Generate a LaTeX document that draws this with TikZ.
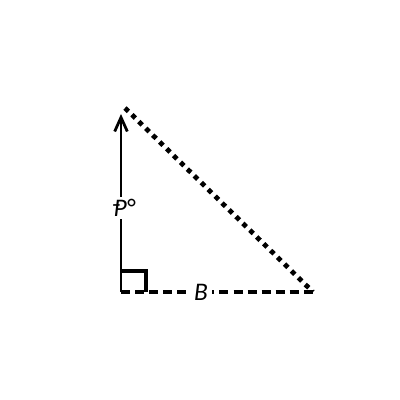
\documentclass[tikz,border=0pt]{standalone}
\usepackage{fontspec}
\setmainfont{Carlito}
\usetikzlibrary{arrows.meta}
\begin{document}
\begin{tikzpicture}[x=0.025cm,y=-0.025cm]
        \useasboundingbox (0,0) rectangle (400,400);

        \coordinate (corner) at (121,292);
        \coordinate (tip) at (121,114);
        \coordinate (apex) at (125,108);
        \coordinate (right) at (313,292);

        \draw[-{Straight Barb[length=10pt,width=9pt,line width=2pt]},line width=1.3pt] (corner) -- (tip);
        \draw[line width=3.4pt,dash pattern=on 3.4pt off 3.5pt] (apex) -- (right);
        \draw[line width=3.4pt,dash pattern=on 6.4pt off 3.6pt] (corner) -- (right);
        \draw[line width=2.8pt] (121,271) -- (146,271) -- (146,292);

        \node[fill=white,inner sep=2pt,font=\fontsize{18}{20}\selectfont\itshape] (p) at (124,208) {Ᵽ°};
        \node[fill=white,inner sep=3pt,font=\fontsize{18}{20}\selectfont\itshape] (b) at (201,292) {B};

    \end{tikzpicture}
\end{document}
